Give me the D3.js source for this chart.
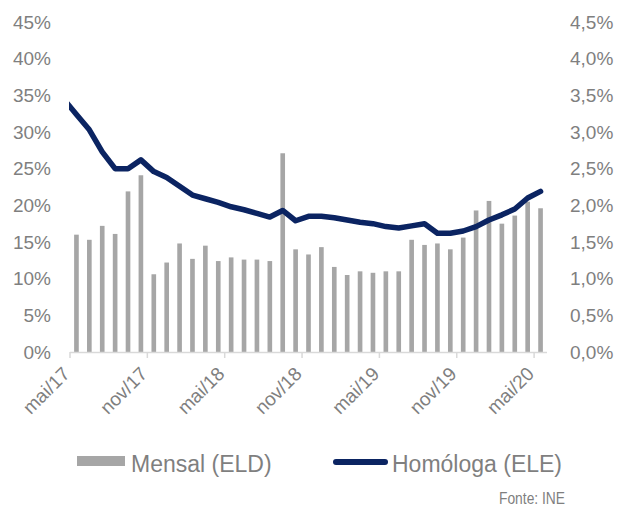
<!DOCTYPE html>
<html>
<head>
<meta charset="utf-8">
<script src="https://cdn.jsdelivr.net/npm/d3@7"></script>
<style>
  body { margin: 0; background: #fff; }
  text { font-family: "Liberation Sans", Arial, Helvetica, sans-serif; fill: #7f7f7f; }
</style>
</head>
<body>
<svg id="chart" width="619" height="509"></svg>
<script>
// months shown as bars (mai/17 .. mai/20)
var months = ["mai/17","jun/17","jul/17","ago/17","set/17","out/17","nov/17","dez/17",
  "jan/18","fev/18","mar/18","abr/18","mai/18","jun/18","jul/18","ago/18","set/18","out/18","nov/18","dez/18",
  "jan/19","fev/19","mar/19","abr/19","mai/19","jun/19","jul/19","ago/19","set/19","out/19","nov/19","dez/19",
  "jan/20","fev/20","mar/20","abr/20","mai/20"];

// line starts one month earlier, clipped by the plot area
var lineMonths = ["abr/17"].concat(months);

// Mensal (ELD), % — left axis
var mensal = [16.0, 15.3, 17.2, 16.1, 21.9, 24.1, 10.6, 12.2, 14.8, 12.7, 14.5, 12.4,
  12.9, 12.6, 12.6, 12.4, 27.1, 14.0, 13.3, 14.3, 11.6, 10.5, 11.0, 10.8, 11.0, 11.0,
  15.3, 14.6, 14.8, 14.0, 15.6, 19.3, 20.6, 17.5, 18.6, 20.5, 19.6];

// Homóloga (ELE), % — right axis
var homologa = [3.45, 3.24, 3.03, 2.73, 2.50, 2.50, 2.62, 2.46, 2.38, 2.26, 2.14, 2.09,
  2.04, 1.98, 1.94, 1.89, 1.84, 1.93, 1.79, 1.85, 1.85, 1.83, 1.80, 1.77, 1.75, 1.71,
  1.69, 1.72, 1.75, 1.62, 1.62, 1.65, 1.71, 1.80, 1.87, 1.95, 2.10, 2.19];

var labelMonths = ["mai/17","nov/17","mai/18","nov/18","mai/19","nov/19","mai/20"];
var leftTicks = [0, 5, 10, 15, 20, 25, 30, 35, 40, 45];
var rightTicks = [0, 0.5, 1, 1.5, 2, 2.5, 3, 3.5, 4, 4.5];

var plot = {left: 70, right: 547, top: 22, bottom: 352};
var svg = d3.select("#chart");

var step = (plot.right - plot.left) / months.length;
var x = d3.scaleBand()
    .domain(lineMonths)
    .range([plot.left - step, plot.right])
    .paddingInner(0.64)
    .paddingOuter(0.32);

var yL = d3.scaleLinear().domain([0, 45]).range([plot.bottom, plot.top]);
var yR = d3.scaleLinear().domain([0, 4.5]).range([plot.bottom, plot.top]);

// bars
svg.append("g")
  .selectAll("rect")
  .data(months)
  .join("rect")
    .attr("x", d => x(d))
    .attr("width", x.bandwidth())
    .attr("y", (d, i) => yL(mensal[i]))
    .attr("height", (d, i) => yL(0) - yL(mensal[i]))
    .attr("fill", "#a6a6a6");

// x axis
svg.append("line")
  .attr("x1", plot.left).attr("x2", plot.right)
  .attr("y1", plot.bottom + 0.5).attr("y2", plot.bottom + 0.5)
  .attr("stroke", "#d9d9d9").attr("stroke-width", 1.5);

var tickX = d => x(d) - (x.step() - x.bandwidth()) / 2;

svg.append("g")
  .selectAll("line")
  .data(labelMonths)
  .join("line")
    .attr("x1", tickX).attr("x2", tickX)
    .attr("y1", plot.bottom).attr("y2", plot.bottom + 6)
    .attr("stroke", "#d9d9d9").attr("stroke-width", 1.5);

svg.append("g")
  .selectAll("text")
  .data(labelMonths)
  .join("text")
    .attr("transform", d => "translate(" + (tickX(d) + 1) + "," + (plot.bottom + 23) + ") rotate(-45)")
    .attr("text-anchor", "end")
    .attr("font-size", 19)
    .text(d => d);

// line
svg.append("clipPath").attr("id", "plotclip")
  .append("rect")
    .attr("x", plot.left - 1).attr("y", 0)
    .attr("width", plot.right - plot.left + 10).attr("height", plot.bottom);

var lineGen = d3.line()
    .x((d, i) => x(lineMonths[i]) + x.bandwidth() / 2)
    .y(d => yR(d));

svg.append("path")
  .datum(homologa)
  .attr("clip-path", "url(#plotclip)")
  .attr("d", lineGen)
  .attr("fill", "none")
  .attr("stroke", "#0b2462")
  .attr("stroke-width", 5.5)
  .attr("stroke-linejoin", "round")
  .attr("stroke-linecap", "round");

// left axis
var gL = svg.append("g")
  .attr("transform", "translate(" + (plot.left - 16) + ",0)")
  .call(d3.axisLeft(yL).tickValues(leftTicks).tickSize(0).tickFormat(d => d + "%"));
gL.select(".domain").remove();
gL.selectAll("text").attr("font-size", 19).attr("font-family", null).attr("fill", null);

// right axis
var fmt = d3.format(".1f");
var gR = svg.append("g")
  .attr("transform", "translate(" + (plot.right + 20) + ",0)")
  .call(d3.axisRight(yR).tickValues(rightTicks).tickSize(0).tickFormat(d => fmt(d).replace(".", ",") + "%"));
gR.select(".domain").remove();
gR.selectAll("text").attr("font-size", 19).attr("font-family", null).attr("fill", null);

// legend
var legend = svg.append("g").attr("font-size", 23);
legend.append("rect")
  .attr("x", 77).attr("y", 456).attr("width", 48).attr("height", 10)
  .attr("fill", "#a6a6a6");
legend.append("text")
  .attr("x", 131).attr("y", 472).text("Mensal (ELD)");
legend.append("line")
  .attr("x1", 336).attr("x2", 385).attr("y1", 462).attr("y2", 462)
  .attr("stroke", "#0b2462").attr("stroke-width", 6).attr("stroke-linecap", "round");
legend.append("text")
  .attr("x", 392).attr("y", 472).text("Homóloga (ELE)");

svg.append("text")
  .attr("x", 565).attr("y", 504)
  .attr("text-anchor", "end")
  .attr("font-size", 16)
  .attr("textLength", 66)
  .attr("lengthAdjust", "spacingAndGlyphs")
  .text("Fonte: INE");
</script>
</body>
</html>
